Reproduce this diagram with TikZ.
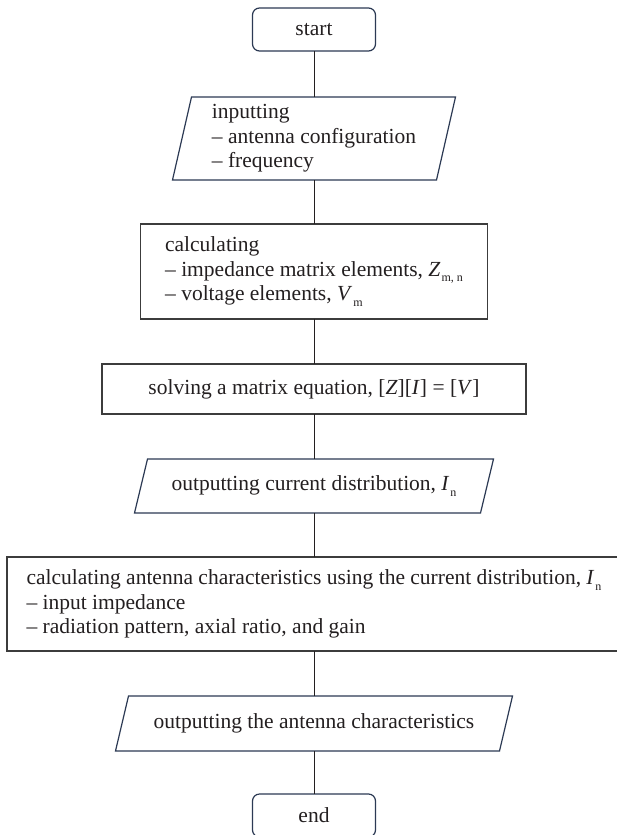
\documentclass[tikz,border=0pt]{standalone}
\usepackage{fontspec}
\setmainfont{Liberation Serif}
\definecolor{navy}{RGB}{44,58,84}
\definecolor{edge}{RGB}{60,60,60}
\definecolor{ink}{RGB}{35,31,32}
\newcommand\lowsub[1]{\kern1pt\raisebox{-0.55ex}{\fontsize{12}{12}\selectfont #1}}
\newcommand\drawio[2]{\draw[draw=navy, line width=1.2pt, line join=miter] ([xshift=#2]#1.north west) -- ([xshift=#2]#1.north east) -- ([xshift=-#2]#1.south east) -- ([xshift=-#2]#1.south west) -- cycle;}
\tikzset{
  base/.style={inner sep=0pt, outer sep=0pt, line width=1.2pt, text=ink,
    font=\fontsize{21.5}{24.5}\selectfont, align=left},
  term/.style={base, draw=navy, rounded corners=7pt, minimum width=123pt, minimum height=43pt},
  proc/.style={base, draw=edge, rectangle},
  iobox/.style={base, rectangle},
  link/.style={line width=1pt, draw=ink},
}
\begin{document}
\begin{tikzpicture}[x=1pt,y=-1pt]
\useasboundingbox (0,0) rectangle (617,835);
\clip (0,0) rectangle (617,835);
\fill[white] (0,0) rectangle (617,835);

\node[term] (start) at (314,29.5) {start};
\node[iobox, minimum width=264pt, minimum height=83pt] (inp) at (314,138.5)
  {inputting\\– antenna configuration\\– frequency};
\node[proc, minimum width=347pt, minimum height=95pt] (calc) at (314,271.5)
  {calculating\\– impedance matrix elements, \textit{Z}\lowsub{m, n}\\– voltage elements, \textit{V}\lowsub{m}};
\node[proc, minimum width=424pt, minimum height=50pt] (solve) at (314,389)
  {solving a matrix equation, [\textit{Z}][\textit{I}] = [\textit{V}]};
\node[iobox, minimum width=346pt, minimum height=54pt] (out) at (314,486)
  {outputting current distribution, \textit{I}\lowsub{n}};
\node[proc, minimum width=614pt, minimum height=94pt] (chr) at (314,604)
  {calculating antenna characteristics using the current distribution, \textit{I}\lowsub{n}\\– input impedance\\– radiation pattern, axial ratio, and gain};
\node[iobox, minimum width=384pt, minimum height=55pt] (outb) at (314,723.5)
  {outputting the antenna characteristics};
\node[term] (stop) at (314,815.5) {end};

\drawio{inp}{9.5pt}
\drawio{out}{6.5pt}
\drawio{outb}{6.5pt}

\draw[link] (start.south) -- (inp.north);
\draw[link] (inp.south) -- (calc.north);
\draw[link] (calc.south) -- (solve.north);
\draw[link] (solve.south) -- (out.north);
\draw[link] (out.south) -- (chr.north);
\draw[link] (chr.south) -- (outb.north);
\draw[link] (outb.south) -- (stop.north);
\end{tikzpicture}
\end{document}
